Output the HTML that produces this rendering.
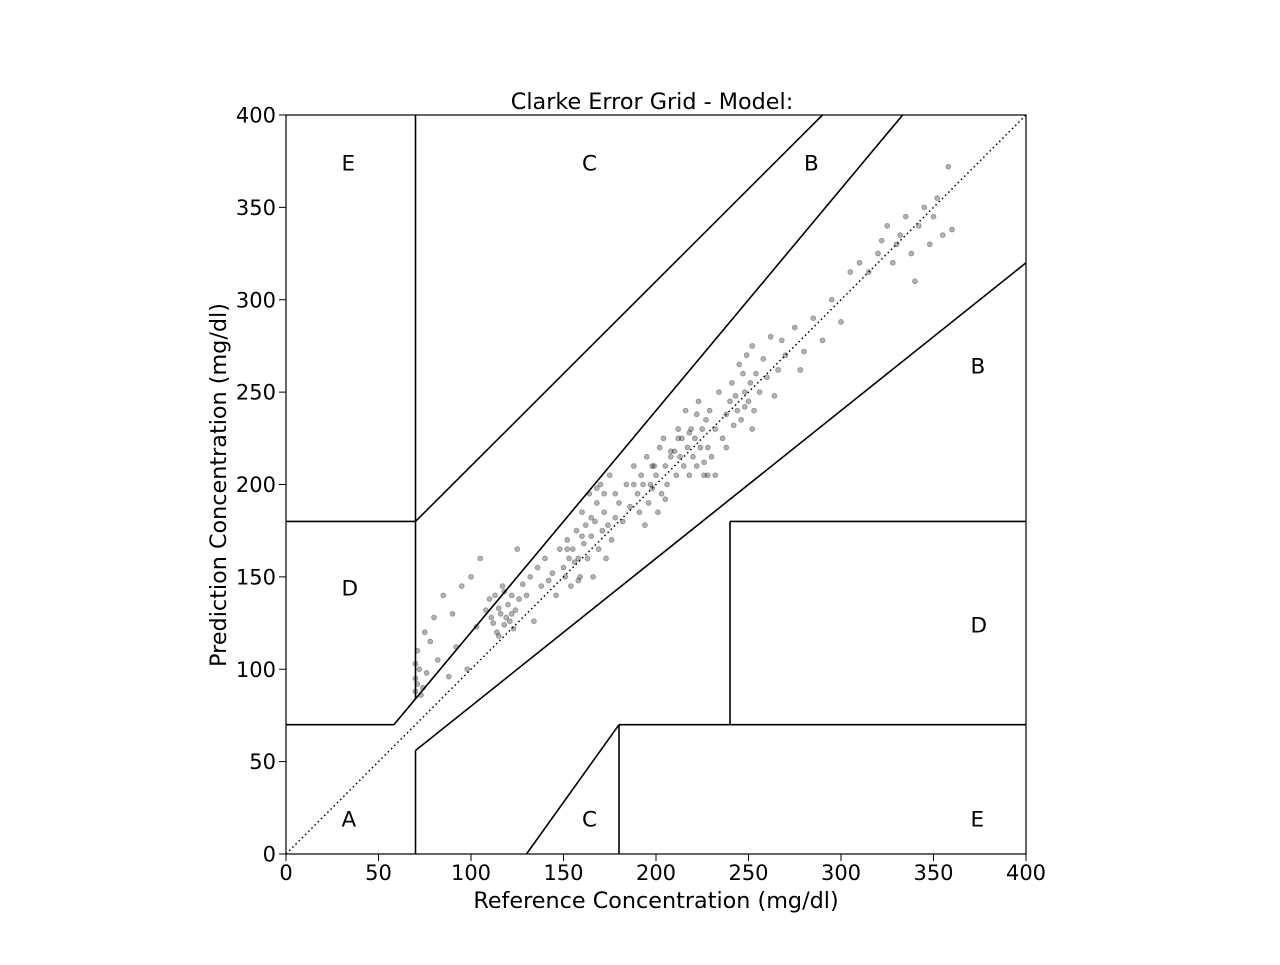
<!DOCTYPE html>
<html><head><meta charset="utf-8"><style>
body{margin:0;background:#fff;}
svg text{font-family:"DejaVu Sans","Liberation Sans",sans-serif;fill:#000;}
</style></head><body>
<svg id="chart" width="1280" height="960" xmlns="http://www.w3.org/2000/svg">
<rect width="1280" height="960" fill="#fff"/>
<g id="points"></g>
<g id="zones"></g>
<g id="labels"></g>
<g id="axes"></g>
<text x="652" y="109" font-size="22.3" text-anchor="middle">Clarke Error Grid - Model:</text>
<text x="656" y="908" font-size="22.3" text-anchor="middle">Reference Concentration (mg/dl)</text>
<text x="226" y="485" font-size="22.3" text-anchor="middle" transform="rotate(-90 226 485)">Prediction Concentration (mg/dl)</text>
</svg>
<script>
const xTicks=[0,50,100,150,200,250,300,350,400];
const yTicks=[0,50,100,150,200,250,300,350,400];
const refVals=[70,70,70,71,71,72,73,74,75,76,78,80,82,85,88,90,92,95,98,100,103,105,108,110,111,112,113,114,115,116,117,118,119,120,121,122,123,124,125,126,128,130,132,134,136,138,140,142,144,146,148,150,151,152,153,154,155,156,157,158,159,160,161,162,163,164,165,166,167,168,169,170,171,172,173,174,175,176,178,180,182,184,186,188,190,191,192,193,194,195,196,197,198,199,200,201,202,203,204,205,206,208,210,211,212,213,214,215,216,217,218,219,220,221,222,223,224,225,226,227,228,229,230,232,234,236,238,240,241,242,243,244,245,246,247,248,249,250,251,252,253,254,256,258,260,262,264,266,268,270,275,278,280,285,290,295,300,305,310,315,320,322,325,328,330,332,335,338,340,342,345,348,350,352,355,358,360,115,118,122,152,158,165,172,198,205,212,222,226,232,248,252,160,168,178,188,208,218,228,238];
const predVals=[88,95,103,110,92,100,86,90,120,98,115,128,105,140,96,130,112,145,100,150,123,160,132,138,128,125,140,120,133,130,145,124,128,135,126,140,122,132,165,138,146,140,150,126,155,145,160,148,152,140,165,155,150,170,160,145,165,158,175,160,150,185,168,178,160,195,172,150,180,190,165,200,175,185,160,178,205,170,195,190,180,200,188,210,195,185,205,200,178,215,190,200,198,210,205,185,220,195,225,210,200,215,218,205,230,215,225,210,240,220,205,230,215,225,210,245,220,230,205,235,220,240,215,230,250,225,238,245,255,232,248,240,265,235,260,250,270,245,255,275,240,260,250,268,258,280,248,262,278,270,285,262,272,290,278,300,288,315,320,315,325,332,340,320,330,335,345,325,310,340,350,330,345,355,335,372,338,118,142,130,165,148,182,195,210,192,225,238,212,205,242,230,172,198,182,200,218,228,205,220];
const X=v=>286+v*740/400, Y=v=>854-v*739/400;
const NS='http://www.w3.org/2000/svg';
function mk(tag,attrs,parent){const e=document.createElementNS(NS,tag);for(const k in attrs)e.setAttribute(k,attrs[k]);parent.appendChild(e);return e;}
const pg=document.getElementById('points');
for(let i=0;i<refVals.length;i++){
 const c=mk('circle',{cx:X(refVals[i]),cy:Y(predVals[i]),r:2.5,fill:'rgba(0,0,0,0.3)',stroke:'rgba(0,0,0,0.3)','stroke-width':0.8},pg);
 
 
}
const zg=document.getElementById('zones');
const segs=[[0,70,175/3,70],[175/3,70,400/1.2,400],[70,84,70,400],[0,180,70,180],[70,180,290,400],[70,0,70,56],[70,56,400,320],[180,0,180,70],[180,70,400,70],[240,70,240,180],[240,180,400,180],[130,0,180,70]];
segs.forEach(s=>{const l=mk('line',{x1:X(s[0]),y1:Y(s[1]),x2:X(s[2]),y2:Y(s[3]),stroke:'#000','stroke-width':1.6},zg);
 
 });
const d=mk('line',{x1:X(0),y1:Y(0),x2:X(400),y2:Y(400),stroke:'#000','stroke-width':1.5,'stroke-dasharray':'1.5,3'},zg);


const lg=document.getElementById('labels');
[['A',30,15],['B',370,260],['B',280,370],['C',160,370],['C',160,15],['D',30,140],['D',370,120],['E',30,370],['E',370,15]].forEach(z=>{
 const t=mk('text',{x:X(z[1]),y:Y(z[2]),'font-size':21.5},lg);t.textContent=z[0];
 
 });
const ag=document.getElementById('axes');
const fr=mk('rect',{x:286,y:115,width:740,height:739,fill:'none',stroke:'#000','stroke-width':1.2},ag);


xTicks.forEach(v=>{mk('line',{x1:X(v),y1:854,x2:X(v),y2:861,stroke:'#000'},ag);
 const t=mk('text',{x:X(v),y:880,'font-size':21,'text-anchor':'middle'},ag);t.textContent=v;
 
 });
yTicks.forEach(v=>{mk('line',{x1:279,y1:Y(v),x2:286,y2:Y(v),stroke:'#000'},ag);
 const t=mk('text',{x:276,y:Y(v)+7.5,'font-size':21,'text-anchor':'end'},ag);t.textContent=v;
 
 });
</script>
</body></html>
